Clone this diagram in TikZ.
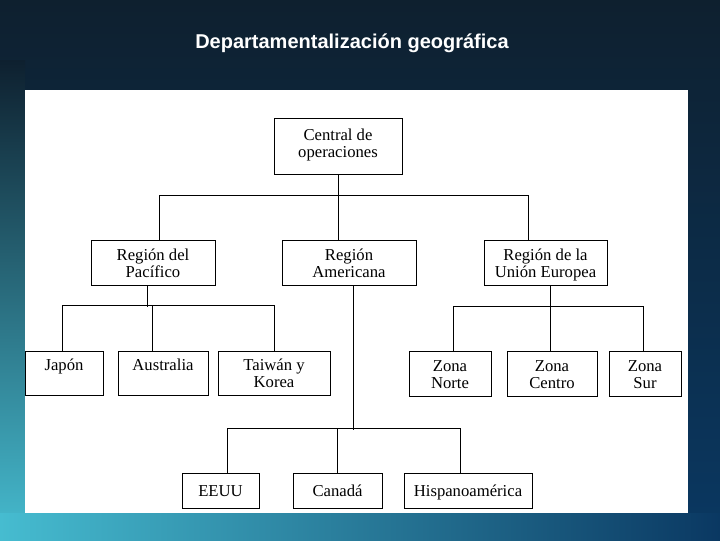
\documentclass[tikz,border=0pt]{standalone}
\usepackage{fontspec}
\setmainfont{Liberation Serif}
\newfontfamily\titlefont{Liberation Sans}
\definecolor{fondoarriba}{RGB}{14,32,47}
\definecolor{fondoabajo}{RGB}{10,56,98}
\definecolor{fondoturquesa}{RGB}{70,188,208}
\definecolor{fondomedio}{RGB}{28,98,128}
\newcommand\primera{\rule[-3.84pt]{0pt}{17.2pt}}
\tikzset{
  caja/.style={draw, line width=0.75pt, fill=white, align=center, inner sep=0pt,
    font=\fontsize{12.5}{12.8}\selectfont},
  linea/.style={line width=0.75pt}
}
\begin{document}
\begin{tikzpicture}[x=0.75pt,y=0.75pt,yscale=-1,xscale=1]
        \useasboundingbox (0,0) rectangle (720,540);

        %Shape: Background (shadings are flipped by yscale=-1)
        \fill[top color=fondoarriba, bottom color=fondoabajo] (0,0) rectangle (720,540);
        \fill[top color=fondoarriba, middle color=fondomedio, bottom color=fondoturquesa] (0,60) rectangle (25,540);
        \fill[left color=fondoturquesa, middle color=fondoabajo!90!fondoturquesa, right color=fondoabajo] (0,513) rectangle (720,540);

        %Shape: Panel
        \fill[white] (25,90) rectangle (688,513);

        %Title
        \node[text=white, font=\titlefont\bfseries\fontsize{15}{18}\selectfont] (titulo) at (352,43) {Departamentalización geográfica};

        %Boxes: top and regions
        \node[caja, minimum width=96pt, minimum height=42pt] (central) at (338,146) {\strut Central de\\\strut operaciones};
        \node[caja, minimum width=93pt, minimum height=33.75pt] (pacifico) at (153,262.5) {\primera Región del\\\strut Pacífico};
        \node[caja, minimum width=100.5pt, minimum height=33.75pt] (americana) at (349,262.5) {\primera Región\\\strut Americana};
        \node[caja, minimum width=92.25pt, minimum height=33.75pt] (union) at (545.5,262.5) {\primera Región de la\\\strut Unión Europea};

        %Boxes: Pacific
        \node[caja, minimum width=58.5pt, minimum height=33pt] (japon) at (64,373) {\primera Japón\\\strut};
        \node[caja, minimum width=67.5pt, minimum height=33pt] (australia) at (163,373) {\primera Australia\\\strut};
        \node[caja, minimum width=84pt, minimum height=33pt] (taiwan) at (274,373) {\primera Taiwán y\\\strut Korea};

        %Boxes: European Union
        \node[caja, minimum width=61.5pt, minimum height=33.75pt] (norte) at (450,373.5) {\primera Zona\\\strut Norte};
        \node[caja, minimum width=67.5pt, minimum height=33.75pt] (centro) at (552,373.5) {\primera Zona\\\strut Centro};
        \node[caja, minimum width=54pt, minimum height=33.75pt] (sur) at (645,373.5) {\primera Zona\\\strut Sur};

        %Boxes: America
        \node[caja, minimum width=57.75pt, minimum height=26.25pt] (eeuu) at (220.5,490.5) {\primera EEUU};
        \node[caja, minimum width=66.75pt, minimum height=26.25pt] (canada) at (337.5,490.5) {\primera Canadá};
        \node[caja, minimum width=96pt, minimum height=26.25pt] (hispano) at (468,490.5) {\primera Hispanoamérica};

        %Straight Lines: top level
        \draw[linea] (central.south) -- (central.south |- americana.north);
        \draw[linea] ([xshift=4.5pt]pacifico.north) -- ++(0,-44) -| ([xshift=-13.125pt]union.north);

        %Straight Lines: Pacific
        \draw[linea] ([xshift=-4.5pt]pacifico.south) -- ++(0,21);
        \draw[linea] ([xshift=-1.5pt]japon.north) -- ++(0,-45) -| (taiwan.north);
        \draw[linea] ([xshift=-8.25pt]australia.north) -- ++(0,-45);

        %Straight Lines: America
        \draw[linea] ([xshift=3pt]americana.south) -- ++(0,144);
        \draw[linea] ([xshift=4.875pt]eeuu.north) -- ++(0,-44) -| ([xshift=-6pt]hispano.north);
        \draw[linea] (canada.north) -- ++(0,-44);

        %Straight Lines: European Union
        \draw[linea] ([xshift=3.375pt]union.south) -- ++(0,22);
        \draw[linea] ([xshift=2.25pt]norte.north) -- ++(0,-44) -| ([xshift=-1.5pt]sur.north);
        \draw[linea] ([xshift=-1.5pt]centro.north) -- ++(0,-44);

\end{tikzpicture}
\end{document}
